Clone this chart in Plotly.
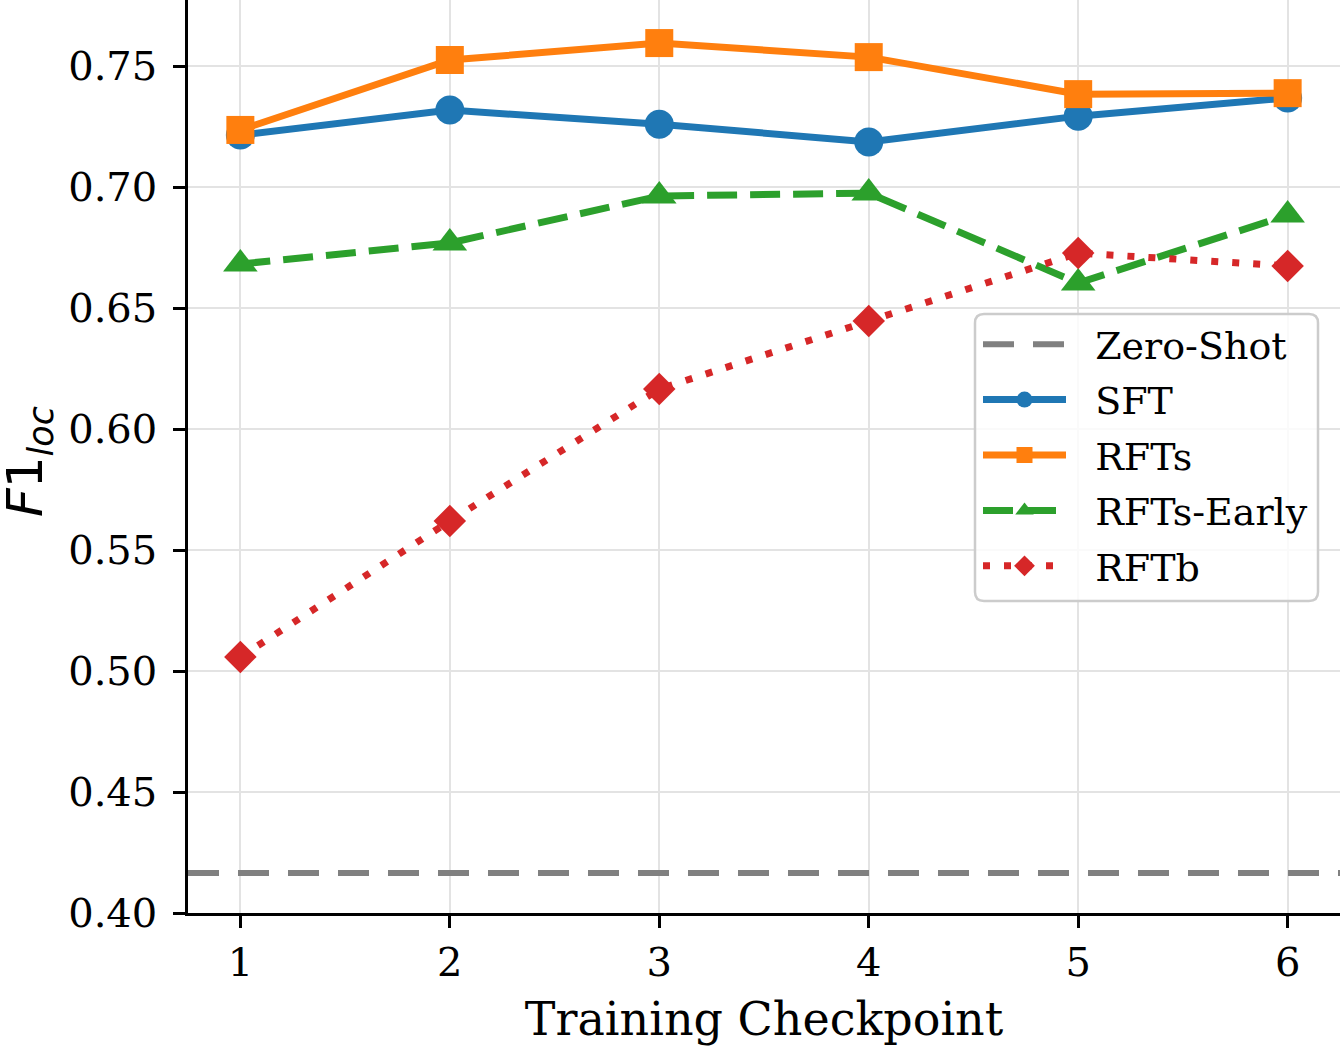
import plotly.graph_objects as go

# ---- data ----
checkpoints = [1, 2, 3, 4, 5, 6]
sft = [0.7215, 0.7318, 0.7260, 0.7186, 0.7293, 0.7368]
rfts = [0.7236, 0.7525, 0.7595, 0.7537, 0.7384, 0.7388]
rfts_early = [0.6682, 0.6769, 0.6963, 0.6975, 0.6603, 0.6884]
rftb = [0.5058, 0.5620, 0.6165, 0.6446, 0.6727, 0.6674]
zero_shot = 0.4165
y_ticks = [0.40, 0.45, 0.50, 0.55, 0.60, 0.65, 0.70, 0.75]

SERIF = "DejaVu Serif"
SANS = "DejaVu Sans"
PAD = "\u00a0\u00a0"

fig = go.Figure()

# Zero-shot reference line (legend entry + hline)
fig.add_trace(go.Scatter(
    x=[None], y=[None], mode="lines", name=PAD + "Zero-Shot", legendgroup="z",
    line=dict(color="#808080", width=6, dash="31px,19px"),
))
fig.add_hline(y=zero_shot, line=dict(color="#808080", width=6, dash="31px,19px"), layer="above")

fig.add_trace(go.Scatter(
    x=checkpoints, y=sft, mode="lines+markers", name=PAD + "SFT", legendgroup="a",
    line=dict(color="#1f77b4", width=7),
    marker=dict(symbol="circle", size=29, color="#1f77b4"),
))
fig.add_trace(go.Scatter(
    x=checkpoints, y=rfts, mode="lines+markers", name=PAD + "RFTs", legendgroup="b",
    line=dict(color="#ff7f0e", width=7),
    marker=dict(symbol="square", size=28, color="#ff7f0e"),
))
fig.add_trace(go.Scatter(
    x=checkpoints, y=rfts_early, mode="lines+markers", name=PAD + "RFTs-Early", legendgroup="c",
    line=dict(color="#2ca02c", width=7, dash="30px,13px"),
    marker=dict(symbol="triangle-up", size=30, color="#2ca02c"),
))
fig.add_trace(go.Scatter(
    x=checkpoints, y=rftb, mode="lines+markers", name=PAD + "RFTb", legendgroup="d",
    line=dict(color="#d62728", width=7, dash="7px,14px"),
    marker=dict(symbol="diamond", size=25, color="#d62728"),
))

# rounded legend frame (pixel geometry converted to paper units)
plot_w, plot_h = 1152, 913
x0, x1 = (975 - 188) / plot_w, (1318 - 188) / plot_w
y1, y0 = 1 - 314 / plot_h, 1 - 601 / plot_h
rx, ry = 9 / plot_w, 9 / plot_h
path = (f"M{x0+rx},{y0} L{x1-rx},{y0} Q{x1},{y0} {x1},{y0+ry} L{x1},{y1-ry} "
        f"Q{x1},{y1} {x1-rx},{y1} L{x0+rx},{y1} Q{x0},{y1} {x0},{y1-ry} "
        f"L{x0},{y0+ry} Q{x0},{y0} {x0+rx},{y0} Z")
fig.add_shape(type="path", path=path, xref="paper", yref="paper",
              line=dict(color="#cccccc", width=2.5),
              fillcolor="rgba(255,255,255,0.8)", layer="above")

# y-axis title as rotated annotation
fig.add_annotation(
    text="<i>F</i>1<sub><i>loc</i></sub>", textangle=-90,
    xref="paper", yref="paper", x=(29 - 188) / plot_w, y=1 - 462 / plot_h,
    xanchor="center", yanchor="middle", showarrow=False,
    font=dict(family=SANS, size=50, color="black"),
)

fig.update_layout(
    width=1340, height=1047,
    margin=dict(l=188, r=0, t=0, b=134),
    paper_bgcolor="white", plot_bgcolor="white",
    font=dict(family=SERIF, size=40, color="black"),
    showlegend=True,
    legend=dict(
        x=x0 + 3 / plot_w, y=y1 + 1 / plot_h, xanchor="left", yanchor="top",
        bgcolor="rgba(0,0,0,0)", borderwidth=0,
        font=dict(family=SERIF, size=38, color="black"),
        itemwidth=83, tracegroupgap=3,
    ),
)

fig.update_xaxes(
    range=[0.75, 6.25], tickvals=checkpoints,
    showline=True, linecolor="black", linewidth=2.5, mirror=False,
    ticks="outside", ticklen=12, tickwidth=2.5, tickcolor="black",
    showgrid=True, gridcolor="#e3e3e3", gridwidth=2, zeroline=False,
    tickfont=dict(family=SERIF, size=40),
    title=dict(text="Training Checkpoint", font=dict(family=SERIF, size=46), standoff=20),
    ticklabelstandoff=0,
)
fig.update_yaxes(
    range=[0.40, 0.7773], tickvals=y_ticks, tickformat=".2f",
    showline=True, linecolor="black", linewidth=2.5, mirror=False,
    ticks="outside", ticklen=12, tickwidth=2.5, tickcolor="black",
    showgrid=True, gridcolor="#e3e3e3", gridwidth=2, zeroline=False,
    tickfont=dict(family=SERIF, size=40),
    ticklabelstandoff=8,
)

fig.write_html("out.html")
